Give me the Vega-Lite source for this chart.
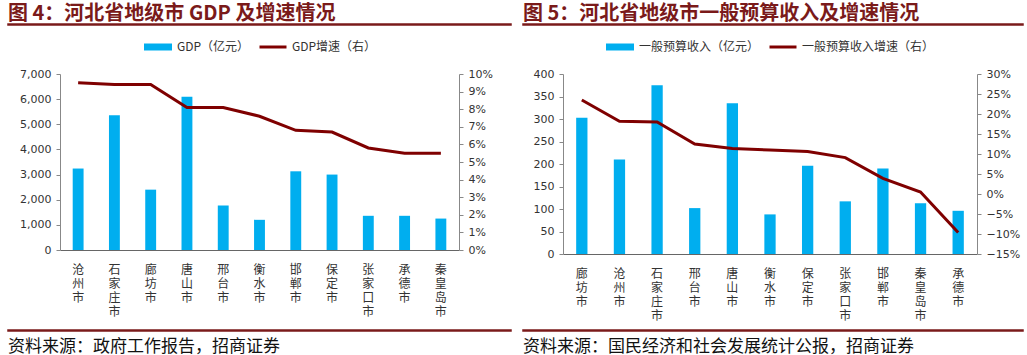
{
  "$schema": "https://vega.github.io/schema/vega-lite/v6.json",
  "background": "white",
  "padding": {"left": 7, "top": 2, "right": 0, "bottom": 0},
  "spacing": 1,
  "resolve": {"scale": {"fill": "independent", "stroke": "independent"}, "legend": {"fill": "independent", "stroke": "independent"}},
  "vconcat": [
    {
      "spacing": 10,
      "hconcat": [
        {
          "width": 503, "height": 1,
          "title": {"text": "图 4：河北省地级市 GDP 及增速情况", "anchor": "start", "fontSize": 20, "font": "Noto Sans CJK SC", "fontWeight": "bold", "color": "#7A1A1A", "offset": -5},
          "view": {"stroke": "#7A1A1A", "strokeWidth": 1.5},
          "data": {"values": [{}]},
          "mark": {"type": "text"},
          "encoding": {"text": {"value": ""}}
        },
        {
          "width": 500, "height": 1,
          "title": {"text": "图 5：河北省地级市一般预算收入及增速情况", "anchor": "start", "fontSize": 20, "font": "Noto Sans CJK SC", "fontWeight": "bold", "color": "#7A1A1A", "offset": -5},
          "view": {"stroke": "#7A1A1A", "strokeWidth": 1.5},
          "data": {"values": [{}]},
          "mark": {"type": "text"},
          "encoding": {"text": {"value": ""}}
        }
      ]
    },
    {
      "spacing": 2,
      "resolve": {"scale": {"fill": "independent", "stroke": "independent"}, "legend": {"fill": "independent", "stroke": "independent"}},
      "vconcat": [
        {
          "spacing": 0,
          "resolve": {"scale": {"fill": "independent", "stroke": "independent"}, "legend": {"fill": "independent", "stroke": "independent"}},
          "hconcat": [
            {
              "width": 1, "height": 1,
              "data": {"values": [{}]},
              "mark": {"type": "text"},
              "encoding": {"text": {"value": ""}}
            },
            {
              "spacing": 29,
              "resolve": {"scale": {"fill": "independent", "stroke": "independent"}, "legend": {"fill": "independent", "stroke": "independent"}},
              "hconcat": [
                {
                  "width": 399, "height": 176,
                  "data": {"values": [
                    {"city": "沧州市", "gdp": 3240, "growth": 0.095},
                    {"city": "石家庄市", "gdp": 5360, "growth": 0.094},
                    {"city": "廊坊市", "gdp": 2400, "growth": 0.094},
                    {"city": "唐山市", "gdp": 6100, "growth": 0.081},
                    {"city": "邢台市", "gdp": 1770, "growth": 0.081},
                    {"city": "衡水市", "gdp": 1200, "growth": 0.076},
                    {"city": "邯郸市", "gdp": 3130, "growth": 0.068},
                    {"city": "保定市", "gdp": 3000, "growth": 0.067},
                    {"city": "张家口市", "gdp": 1360, "growth": 0.058},
                    {"city": "承德市", "gdp": 1360, "growth": 0.055},
                    {"city": "秦皇岛市", "gdp": 1250, "growth": 0.055}
                  ]},
                  "encoding": {
                    "x": {"field": "city", "type": "nominal", "sort": null,
                      "scale": {"paddingInner": 0.7, "paddingOuter": 0.35},
                      "axis": {"title": null, "ticks": false, "labelAngle": 0, "labelExpr": "split(datum.label, '')", "labelLineHeight": 14, "labelBaseline": "top", "labelPadding": 14, "labelFont": "Noto Sans CJK SC", "labelFontSize": 12, "labelColor": "#333", "labelOverlap": false, "domainColor": "#666"}}
                  },
                  "layer": [
                    {
                      "mark": {"type": "bar"},
                      "encoding": {
                        "y": {"field": "gdp", "type": "quantitative", "scale": {"domain": [0, 7000], "nice": false},
                          "axis": {"values": [0, 1000, 2000, 3000, 4000, 5000, 6000, 7000], "format": ",d", "title": ".", "titleOpacity": 0, "titleAngle": 0, "titleX": -51, "titleY": 80, "titleAlign": "left", "titleFontSize": 8}},
                        "fill": {"datum": "GDP（亿元）", "scale": {"range": ["#00AEEF"]},
                          "legend": {"orient": "top", "title": null, "symbolType": "M-1,-0.25H1V0.25H-1Z", "symbolSize": 784, "labelFont": "Noto Sans CJK SC", "labelFontSize": 12, "labelColor": "#333", "offset": 21.5, "padding": 0}}
                      }
                    },
                    {
                      "mark": {"type": "line", "strokeWidth": 3},
                      "encoding": {
                        "y": {"field": "growth", "type": "quantitative", "scale": {"domain": [0, 0.1], "nice": false},
                          "axis": {"orient": "right", "values": [0, 0.01, 0.02, 0.03, 0.04, 0.05, 0.06, 0.07, 0.08, 0.09, 0.1], "format": ".0%", "title": null}},
                        "stroke": {"datum": "GDP增速（右）", "scale": {"range": ["#7F0000"]},
                          "legend": {"orient": "top", "title": null, "symbolType": "stroke", "symbolSize": 729, "symbolStrokeWidth": 3, "labelFont": "Noto Sans CJK SC", "labelFontSize": 12, "labelColor": "#333", "offset": 21.5, "padding": 0}}
                      }
                    }
                  ],
                  "resolve": {"scale": {"y": "independent"}}
                },
                {
                  "width": 414, "height": 180,
                  "data": {"values": [
                    {"city": "廊坊市", "rev": 303, "growth": 0.235},
                    {"city": "沧州市", "rev": 210, "growth": 0.182},
                    {"city": "石家庄市", "rev": 375, "growth": 0.180},
                    {"city": "邢台市", "rev": 102, "growth": 0.125},
                    {"city": "唐山市", "rev": 335, "growth": 0.114},
                    {"city": "衡水市", "rev": 88, "growth": 0.110},
                    {"city": "保定市", "rev": 196, "growth": 0.106},
                    {"city": "张家口市", "rev": 117, "growth": 0.091},
                    {"city": "邯郸市", "rev": 190, "growth": 0.039},
                    {"city": "秦皇岛市", "rev": 113, "growth": 0.005},
                    {"city": "承德市", "rev": 96, "growth": -0.096}
                  ]},
                  "encoding": {
                    "x": {"field": "city", "type": "nominal", "sort": null,
                      "scale": {"paddingInner": 0.7, "paddingOuter": 0.35},
                      "axis": {"title": null, "ticks": false, "labelAngle": 0, "labelExpr": "split(datum.label, '')", "labelLineHeight": 14, "labelBaseline": "top", "labelPadding": 14, "labelFont": "Noto Sans CJK SC", "labelFontSize": 12, "labelColor": "#333", "labelOverlap": false, "domainColor": "#666"}}
                  },
                  "layer": [
                    {
                      "mark": {"type": "bar"},
                      "encoding": {
                        "y": {"field": "rev", "type": "quantitative", "scale": {"domain": [0, 400], "nice": false},
                          "axis": {"values": [0, 50, 100, 150, 200, 250, 300, 350, 400], "title": ".", "titleOpacity": 0, "titleAngle": 0, "titleX": -41, "titleY": 80, "titleAlign": "left", "titleFontSize": 8}},
                        "fill": {"datum": "一般预算收入（亿元）", "scale": {"range": ["#00AEEF"]},
                          "legend": {"orient": "top", "title": null, "symbolType": "M-1,-0.25H1V0.25H-1Z", "symbolSize": 784, "labelFont": "Noto Sans CJK SC", "labelFontSize": 12, "labelColor": "#333", "offset": 21.5, "padding": 0}}
                      }
                    },
                    {
                      "mark": {"type": "line", "strokeWidth": 3},
                      "encoding": {
                        "y": {"field": "growth", "type": "quantitative", "scale": {"domain": [-0.15, 0.3], "nice": false},
                          "axis": {"orient": "right", "values": [-0.15, -0.1, -0.05, 0, 0.05, 0.1, 0.15, 0.2, 0.25, 0.3], "format": ".0%", "title": null}},
                        "stroke": {"datum": "一般预算收入增速（右）", "scale": {"range": ["#7F0000"]},
                          "legend": {"orient": "top", "title": null, "symbolType": "stroke", "symbolSize": 729, "symbolStrokeWidth": 3, "labelFont": "Noto Sans CJK SC", "labelFontSize": 12, "labelColor": "#333", "offset": 21.5, "padding": 0}}
                      }
                    }
                  ],
                  "resolve": {"scale": {"y": "independent"}}
                }
              ]
            }
          ]
        },
        {
          "spacing": 10,
          "hconcat": [
            {
              "width": 503, "height": 1,
              "title": {"text": "资料来源：政府工作报告，招商证券", "orient": "bottom", "anchor": "start", "fontSize": 17, "font": "Noto Sans CJK SC", "fontWeight": "normal", "color": "#111", "offset": 3},
              "view": {"stroke": "#7A1A1A", "strokeWidth": 1.5},
              "data": {"values": [{}]},
              "mark": {"type": "text"},
              "encoding": {"text": {"value": ""}}
            },
            {
              "width": 500, "height": 1,
              "title": {"text": "资料来源：国民经济和社会发展统计公报，招商证券", "orient": "bottom", "anchor": "start", "fontSize": 17, "font": "Noto Sans CJK SC", "fontWeight": "normal", "color": "#111", "offset": 3},
              "view": {"stroke": "#7A1A1A", "strokeWidth": 1.5},
              "data": {"values": [{}]},
              "mark": {"type": "text"},
              "encoding": {"text": {"value": ""}}
            }
          ]
        }
      ]
    }
  ],
  "config": {
    "view": {"stroke": null},
    "axis": {"grid": false, "labelFont": "DejaVu Sans", "labelFontSize": 11, "labelColor": "#333", "domainColor": "#888", "tickColor": "#888", "tickSize": 4, "labelPadding": 5},
    "legend": {"layout": {"top": {"anchor": "middle", "direction": "horizontal", "margin": 8}}}
  }
}
